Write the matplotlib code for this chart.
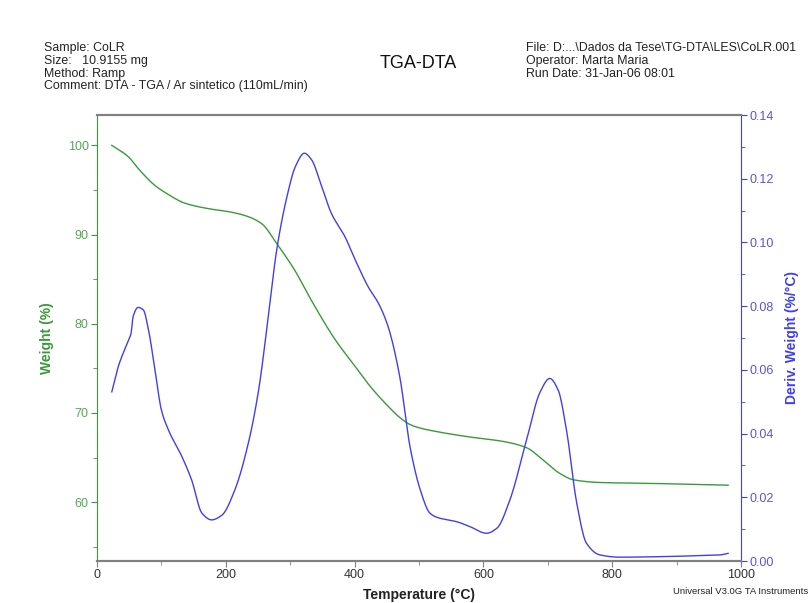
import numpy as np
import matplotlib
matplotlib.use("Agg")
import matplotlib.pyplot as plt
from matplotlib.ticker import MultipleLocator, FormatStrFormatter

plt.rcParams['font.family'] = ['Liberation Sans', 'DejaVu Sans']

# Weight (%) vs temperature (°C)
tga_temp = [23, 49, 64, 90, 106, 137, 173, 209, 235, 256, 279, 307, 333, 370,
            401, 424, 450, 470, 486, 502, 528, 579, 631, 667, 693, 719, 740,
            781, 859, 980]
tga_weight = [100.0, 98.7, 97.4, 95.5, 94.7, 93.5, 92.9, 92.5, 92.0, 91.2, 89.0,
              86.0, 82.6, 78.2, 75.2, 73.0, 70.9, 69.5, 68.7, 68.3, 67.9, 67.3,
              66.8, 66.1, 64.7, 63.2, 62.5, 62.2, 62.1, 61.9]

# Derivative weight (%/°C) vs temperature (°C)
dtg_temp = [23, 33, 49, 53, 56, 64, 72, 80, 90, 100, 111, 132, 147, 163, 178,
            194, 214, 235, 251, 266, 279, 295, 308, 322, 333, 349, 364, 385,
            401, 421, 437, 452, 470, 486, 502, 517, 528, 559, 579, 605, 621,
            641, 667, 688, 703, 716, 729, 745, 760, 781, 812, 885, 936, 967,
            980]
dtg_deriv = [0.0531, 0.0610, 0.0694, 0.0715, 0.0767, 0.0796, 0.0788, 0.0725,
             0.0600, 0.0474, 0.0411, 0.0327, 0.0254, 0.0150, 0.0129, 0.0144,
             0.0223, 0.0370, 0.0537, 0.0767, 0.0976, 0.1144, 0.1238, 0.1280,
             0.1260, 0.1175, 0.1091, 0.1018, 0.0945, 0.0861, 0.0809, 0.0736,
             0.0580, 0.0359, 0.0223, 0.0150, 0.0137, 0.0123, 0.0108, 0.0087,
             0.0103, 0.0191, 0.0380, 0.0530, 0.0573, 0.0537, 0.0411, 0.0181,
             0.0056, 0.0019, 0.0012, 0.0014, 0.0017, 0.0019, 0.0024]

GREEN = '#3a9a3a'
GREEN_TXT = '#55a855'
BLUE = '#3f3fef'
BLUE_TXT = '#5555e0'
GRAY = '#808080'


def smooth(x, y, n=800):
    """Monotone cubic (PCHIP-like) resampling for a smooth trace."""
    x = np.asarray(x, float)
    y = np.asarray(y, float)
    h = np.diff(x)
    d = np.diff(y) / h
    m = np.zeros_like(y)
    for i in range(1, len(y) - 1):
        if d[i - 1] * d[i] > 0:
            w1 = 2 * h[i] + h[i - 1]
            w2 = h[i] + 2 * h[i - 1]
            m[i] = (w1 + w2) / (w1 / d[i - 1] + w2 / d[i])
    m[0] = d[0]
    m[-1] = d[-1]
    xs = np.linspace(x[0], x[-1], n)
    idx = np.clip(np.searchsorted(x, xs) - 1, 0, len(h) - 1)
    t = (xs - x[idx]) / h[idx]
    h00 = 2 * t**3 - 3 * t**2 + 1
    h10 = t**3 - 2 * t**2 + t
    h01 = -2 * t**3 + 3 * t**2
    h11 = t**3 - t**2
    ys = (h00 * y[idx] + h10 * h[idx] * m[idx] +
          h01 * y[idx + 1] + h11 * h[idx] * m[idx + 1])
    return xs, ys


fig = plt.figure(figsize=(8.12, 6.03), dpi=100)
ax = fig.add_axes([97 / 812, 1 - 561 / 603, (741 - 97) / 812, (561 - 115) / 603])
ax2 = ax.twinx()

xs, ys = smooth(tga_temp, tga_weight)
ax.plot(xs, ys, color=GREEN, lw=1.0)
xs2, ys2 = smooth(dtg_temp, dtg_deriv)
ax2.plot(xs2, ys2, color=BLUE, lw=1.0)

ax.set_xlim(0, 1000)
ax.set_ylim(53.4, 103.4)
ax2.set_ylim(0, 0.14)

ax.xaxis.set_major_locator(MultipleLocator(200))
ax.xaxis.set_minor_locator(MultipleLocator(100))
ax.yaxis.set_major_locator(MultipleLocator(10))
ax.yaxis.set_minor_locator(MultipleLocator(5))
ax2.yaxis.set_major_locator(MultipleLocator(0.02))
ax2.yaxis.set_minor_locator(MultipleLocator(0.01))
ax2.yaxis.set_major_formatter(FormatStrFormatter('%.2f'))

for a in (ax, ax2):
    a.spines['top'].set_color(GRAY)
    a.spines['bottom'].set_color(GRAY)
    a.spines['top'].set_linewidth(1.5)
    a.spines['bottom'].set_linewidth(1.5)
ax.spines['left'].set_color(GREEN)
ax.spines['right'].set_visible(False)
ax2.spines['left'].set_visible(False)
ax2.spines['right'].set_color(BLUE)

ax.tick_params(axis='x', which='both', colors=GRAY, labelcolor='#333333',
               labelsize=9, length=4, pad=2)
ax.tick_params(axis='x', which='minor', length=3)
ax.tick_params(axis='y', which='both', colors=GREEN, labelcolor=GREEN_TXT,
               labelsize=9, length=4, pad=2)
ax.tick_params(axis='y', which='minor', length=3)
ax2.tick_params(axis='y', which='both', colors=BLUE, labelcolor=BLUE_TXT,
                labelsize=9, length=4, pad=2)
ax2.tick_params(axis='y', which='minor', length=3)

ax.set_xlabel('Temperature (°C)', fontsize=10, fontweight='bold', color='#222222',
              labelpad=5)
ax.set_ylabel('Weight (%)', fontsize=10, fontweight='bold', color=GREEN, labelpad=10)
ax2.set_ylabel('Deriv. Weight (%/°C)', fontsize=10, fontweight='bold', color=BLUE,
               labelpad=8)

fig.text(418 / 812, 1 - 63 / 603, 'TGA-DTA', ha='center', va='center',
         fontsize=13, color='#111111')

left_header = ['Sample: CoLR', 'Size:   10.9155 mg', 'Method: Ramp',
               'Comment: DTA - TGA / Ar sintetico (110mL/min)']
right_header = ['File: D:...\\Dados da Tese\\TG-DTA\\LES\\CoLR.001',
                'Operator: Marta Maria', 'Run Date: 31-Jan-06 08:01']
for i, line in enumerate(left_header):
    fig.text(44 / 812, 1 - (48 + 12.8 * i) / 603, line, ha='left', va='center',
             fontsize=8.9, color='#222222')
for i, line in enumerate(right_header):
    fig.text(526 / 812, 1 - (48 + 12.8 * i) / 603, line, ha='left', va='center',
             fontsize=8.9, color='#222222')

fig.text(808 / 812, 1 - 591 / 603, 'Universal V3.0G TA Instruments', ha='right',
         va='center', fontsize=6.8, color='#222222')

fig.savefig('out.png', dpi=100)
